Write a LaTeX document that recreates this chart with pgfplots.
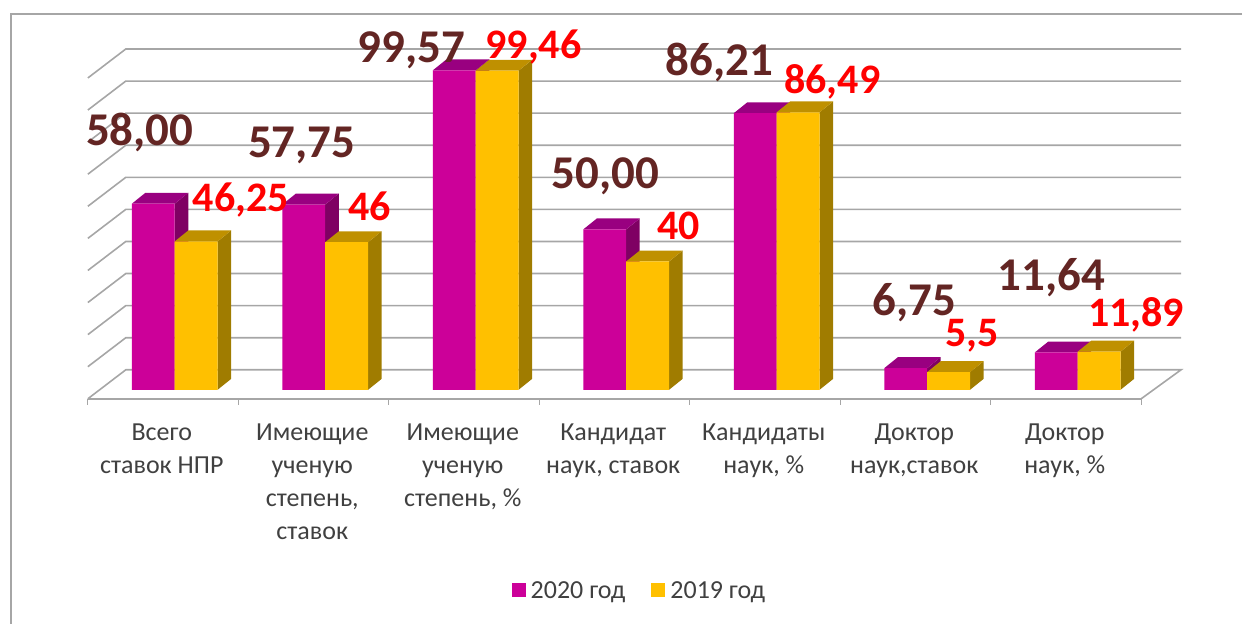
\documentclass[border=0pt]{standalone}
\usepackage{pgfplots}
\pgfplotsset{compat=1.18}
\usepackage{fontspec}
\setmainfont{Carlito}
\definecolor{mag}{HTML}{CC0099}
\definecolor{magtop}{HTML}{990080}
\definecolor{magside}{HTML}{7F0063}
\definecolor{yel}{HTML}{FFC000}
\definecolor{yeltop}{HTML}{BF9000}
\definecolor{yelside}{HTML}{A07C00}
\definecolor{gridc}{HTML}{A6A6A6}
\definecolor{brn}{HTML}{632523}
\definecolor{txt}{HTML}{404040}
\newcommand{\barsides}[4]{%
  \pgfmathsetmacro\xL{#1+#3}%
  \pgfmathsetmacro\xR{\xL+0.285}%
  \pgfmathsetmacro\xLL{\xL+0.09}%
  \pgfmathsetmacro\xRR{\xR+0.09}%
  \pgfmathsetmacro\vv{#2+3.4}%
  \edef\tmp{\noexpand\addplot[draw=none,fill=#4side,forget plot] coordinates {(\xR,0)(\xR,#2)(\xRR,\vv)(\xRR,3.4)} --cycle;
  \noexpand\addplot[draw=none,fill=#4top,forget plot] coordinates {(\xL,#2)(\xR,#2)(\xRR,\vv)(\xLL,\vv)} --cycle;}%
  \tmp
}
\newcommand{\lblA}[3]{\node[text=brn,font=\fontsize{47}{47}\selectfont\bfseries,inner sep=0pt] at (axis cs:#1,#2) {#3};}
\newcommand{\lblB}[3]{\node[text=red,font=\fontsize{42}{42}\selectfont\bfseries,inner sep=0pt] at (axis cs:#1,#2) {#3};}
\begin{document}
\begin{tikzpicture}
\begin{axis}[
  scale only axis, width=1054pt, height=350pt,
  xmin=-0.571, xmax=6.428, ymin=-2.8, ymax=106.23,
  axis x line=bottom, axis y line=none,
  x axis line style={-,draw=gridc,line width=1.6pt},
  clip=false,
  xtick={-0.08,0.92,1.92,2.92,3.92,4.92,5.92},
  xticklabels={{Всего\\ставок НПР},{Имеющие\\ученую\\степень,\\ставок},{Имеющие\\ученую\\степень, \%},{Кандидат\\наук, ставок},{Кандидаты\\наук, \%},{Доктор\\наук,ставок},{Доктор\\наук, \%}},
  xticklabel style={align=center,anchor=north,font=\fontsize{26}{33}\selectfont,text=txt,yshift=-22pt},
  major tick length=0pt,
  minor xtick={-0.571,0.429,1.429,2.429,3.429,4.429,5.429,6.428},
  minor tick length=6pt, tick align=outside,
  minor tick style={draw=gridc,line width=1.2pt},
  legend style={at={(axis cs:3.094,-62.6)},anchor=center,draw=none,fill=none,legend columns=2,
    font=\fontsize{26}{28}\selectfont,text=txt,
    /tikz/every even column/.append style={column sep=24pt}},
  legend image code/.code={\path[#1] (0pt,-6pt) rectangle (14pt,8pt);\path (17pt,0pt);},
]
% page extent and frame
\path (axis cs:-1.155,121.5) rectangle (axis cs:7.098,-72.9);
\draw[gridc,line width=2pt] (axis cs:7.098,117.2) -- (axis cs:-1.082,117.2) -- (axis cs:-1.082,-72.9);
% back and side wall gridlines
\addplot[gridc,line width=1.6pt,forget plot] coordinates {(-0.571,-2.8)(-0.319,6.23)(6.693,6.23)(6.428,-2.8)};
\addplot[gridc,line width=1.6pt,forget plot] coordinates {(-0.571,7.2)(-0.319,16.23)(6.693,16.23)};
\addplot[gridc,line width=1.6pt,forget plot] coordinates {(-0.571,17.2)(-0.319,26.23)(6.693,26.23)};
\addplot[gridc,line width=1.6pt,forget plot] coordinates {(-0.571,27.2)(-0.319,36.23)(6.693,36.23)};
\addplot[gridc,line width=1.6pt,forget plot] coordinates {(-0.571,37.2)(-0.319,46.23)(6.693,46.23)};
\addplot[gridc,line width=1.6pt,forget plot] coordinates {(-0.571,47.2)(-0.319,56.23)(6.693,56.23)};
\addplot[gridc,line width=1.6pt,forget plot] coordinates {(-0.571,57.2)(-0.319,66.23)(6.693,66.23)};
\addplot[gridc,line width=1.6pt,forget plot] coordinates {(-0.571,67.2)(-0.319,76.23)(6.693,76.23)};
\addplot[gridc,line width=1.6pt,forget plot] coordinates {(-0.571,77.2)(-0.319,86.23)(6.693,86.23)};
\addplot[gridc,line width=1.6pt,forget plot] coordinates {(-0.571,87.2)(-0.319,96.23)(6.693,96.23)};
\addplot[gridc,line width=1.6pt,forget plot] coordinates {(-0.571,97.2)(-0.319,106.23)(6.693,106.23)};
% 2020
\barsides{0}{58.00}{-0.279}{mag}
\barsides{1}{57.75}{-0.279}{mag}
\barsides{2}{99.57}{-0.279}{mag}
\barsides{3}{50.00}{-0.279}{mag}
\barsides{4}{86.21}{-0.279}{mag}
\barsides{5}{6.75}{-0.279}{mag}
\barsides{6}{11.64}{-0.279}{mag}
\addplot[ybar,bar width=0.285,bar shift=-0.1365,draw=none,fill=mag,forget plot] coordinates {(0,58.00)(1,57.75)(2,99.57)(3,50.00)(4,86.21)(5,6.75)(6,11.64)};
% 2019
\barsides{0}{46.25}{0.006}{yel}
\barsides{1}{46.00}{0.006}{yel}
\barsides{2}{99.46}{0.006}{yel}
\barsides{3}{40.00}{0.006}{yel}
\barsides{4}{86.49}{0.006}{yel}
\barsides{5}{5.50}{0.006}{yel}
\barsides{6}{11.89}{0.006}{yel}
\addplot[ybar,bar width=0.285,bar shift=0.1485,draw=none,fill=yel,forget plot] coordinates {(0,46.25)(1,46.00)(2,99.46)(3,40.00)(4,86.49)(5,5.50)(6,11.89)};
% data labels
\lblA{-0.226}{80.2}{58,00}
\lblA{0.850}{76.1}{57,75}
\lblA{1.580}{105.8}{99,57}
\lblA{2.869}{66.5}{50,00}
\lblA{3.625}{102.0}{86,21}
\lblA{4.920}{27.2}{6,75}
\lblA{5.830}{35.0}{11,64}
\lblB{0.445}{59.0}{46,25}
\lblB{1.301}{57.2}{46}
\lblB{2.390}{107.0}{99,46}
\lblB{3.353}{51.2}{40}
\lblB{4.376}{96.1}{86,49}
\lblB{5.306}{16.9}{5,5}
\lblB{6.395}{23.5}{11,89}
% legend
\addlegendimage{draw=none,fill=mag}
\addlegendentry{2020 год}
\addlegendimage{draw=none,fill=yel}
\addlegendentry{2019 год}
\end{axis}
\end{tikzpicture}
\end{document}
